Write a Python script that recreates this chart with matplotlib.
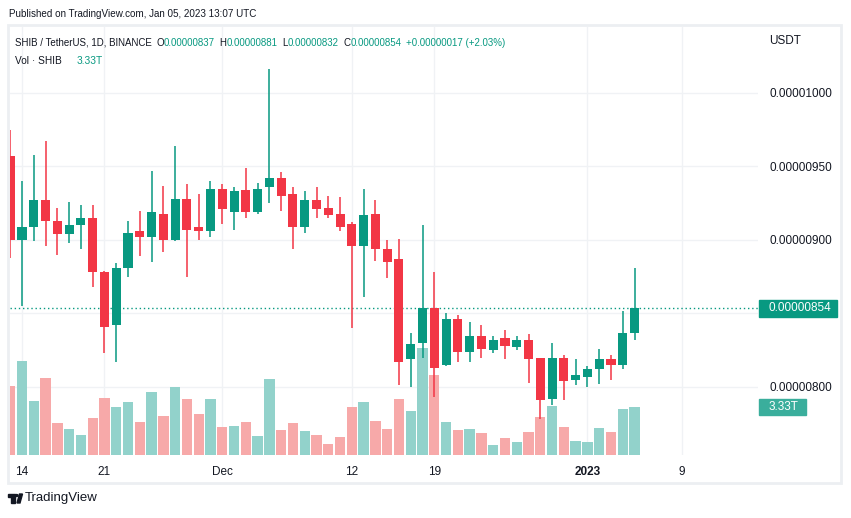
import numpy as np
import pandas as pd
import matplotlib
matplotlib.use("Agg")
import matplotlib.pyplot as plt
from matplotlib import patches
from matplotlib import transforms

plt.rcParams['font.family'] = ['Liberation Sans', 'DejaVu Sans']

# ---- data: SHIB/USDT daily, prices in 1e-8 USDT, volume in trillions ----
dates = pd.date_range('2022-11-13', '2023-01-05', freq='D')
opens = [957, 900, 909, 927, 913, 904, 910, 915, 878, 842, 881, 906, 902, 918,
         900, 928, 909, 906, 935, 919, 934, 919, 936, 942, 931, 909, 927, 922,
         918, 911, 896, 918, 894, 887, 819, 830, 854, 815, 846, 824, 835, 825,
         833, 827, 832, 820, 792, 820, 805, 807, 812, 819, 815, 837]
highs = [975, 940, 958, 967, 922, 926, 924, 924, 879, 884, 913, 920, 947, 937,
         964, 938, 931, 940, 938, 936, 949, 939, 1016, 946, 936, 933, 936, 930,
         929, 912, 935, 927, 900, 901, 837, 910, 878, 850, 849, 844, 842, 835,
         839, 835, 836, 820, 830, 822, 819, 814, 826, 822, 852, 881]
lows = [888, 855, 899, 896, 890, 898, 894, 868, 823, 817, 875, 889, 885, 892,
        899, 875, 900, 902, 911, 907, 915, 918, 925, 920, 894, 905, 915, 915,
        906, 840, 861, 886, 874, 801, 800, 820, 793, 814, 817, 817, 820, 823,
        819, 825, 803, 778, 788, 791, 801, 800, 802, 805, 812, 832]
closes = [900, 909, 927, 913, 904, 910, 915, 878, 841, 881, 905, 902, 919, 900,
          928, 907, 906, 935, 921, 933, 919, 935, 942, 930, 909, 927, 921, 917,
          909, 896, 917, 894, 885, 817, 829, 854, 813, 846, 824, 835, 826, 832,
          828, 832, 819, 791, 820, 804, 808, 812, 819, 815, 837, 854]
volumes = [4.79, 6.52, 3.75, 5.34, 2.22, 1.80, 1.39, 2.57, 3.95, 3.33, 3.68,
           2.29, 4.37, 2.71, 4.72, 3.89, 2.84, 3.89, 1.94, 2.01, 2.29, 1.32,
           5.27, 1.73, 2.22, 1.66, 1.39, 0.76, 1.25, 3.33, 3.68, 2.36, 1.80,
           3.89, 3.05, 7.42, 5.55, 2.29, 1.73, 1.80, 1.53, 0.69, 1.18, 0.90,
           1.60, 2.64, 3.40, 1.94, 0.97, 0.90, 1.87, 1.60, 3.19, 3.33]

price_ticks = [800, 850, 900, 950, 1000]
date_ticks = pd.to_datetime(['2022-11-14', '2022-11-21', '2022-12-01', '2022-12-12',
                             '2022-12-19', '2023-01-01', '2023-01-09'])
date_labels = ['14', '21', 'Dec', '12', '19', '2023', '9']

UP = '#089981'
DOWN = '#F23645'
UP_VOL = '#92d2cb'
DOWN_VOL = '#f7a9a9'
TXT = '#131722'
GRID = '#f0f2f5'
SCALE = 1e-8

W, H = 851, 518
fig = plt.figure(figsize=(W / 100, H / 100), dpi=100)


def fx(px):
    return px / W


def fy(py):
    return 1 - py / H


# frame around chart
fig.patches.append(patches.Rectangle((fx(8), fy(483)), fx(833), (483 - 25) / H,
                                     transform=fig.transFigure, fill=False,
                                     edgecolor='#eceff2', lw=2))

left, right, top, bottom = 10, 758, 27, 455
axv = fig.add_axes([fx(left), fy(bottom), fx(right - left), (bottom - top) / H])
axp = axv.twinx()

x = np.array([(d - dates[0]).days for d in dates])
xt = np.array([(d - dates[0]).days for d in date_ticks])
o = np.array(opens) * SCALE
h = np.array(highs) * SCALE
lo = np.array(lows) * SCALE
c = np.array(closes) * SCALE
up = c >= o

# volume
vmax = 29.69
axv.bar(x, volumes, width=0.88, color=np.where(up, UP_VOL, DOWN_VOL), zorder=2)
axv.set_ylim(0, vmax)
for xv in xt:
    axv.axvline(xv, color=GRID, lw=1, zorder=0)
plo, phi = 753.7 * SCALE, 1044.9 * SCALE
for p in price_ticks:
    f = (p * SCALE - plo) / (phi - plo)
    axv.plot([0, 1], [f, f], transform=axv.transAxes, color=GRID, lw=1, zorder=0)

# candles
cols = np.where(up, UP, DOWN)
axp.vlines(x, lo, h, colors=cols, lw=1.1, zorder=3)
body_lo = np.minimum(o, c)
body_h = np.maximum(np.abs(c - o), 0.6 * SCALE)
axp.bar(x, body_h, bottom=body_lo, width=0.77, color=cols, zorder=4)
axp.set_ylim(plo, phi)
axp.axhline(c[-1], color=UP, lw=1, ls=(0, (1, 2)), zorder=2)

axv.set_xlim(-0.02, 63.48)
axv.set_xticks(xt)
axv.set_xticklabels(date_labels)
for lab in axv.get_xticklabels():
    lab.set_fontsize(8.5)
    lab.set_color(TXT)
    if lab.get_text() == '2023':
        lab.set_fontweight('bold')
axv.tick_params(axis='x', length=0, pad=8)
axv.set_yticks([])
axp.set_yticks(np.array(price_ticks) * SCALE)
axp.set_yticklabels([f'{p * SCALE:.8f}' for p in price_ticks])
axp.tick_params(axis='y', length=0, pad=8, labelsize=8.5, labelcolor=TXT)
for a in (axv, axp):
    for s in a.spines.values():
        s.set_visible(False)

# price and volume tags on the scale
axw = right - left
tr = transforms.blended_transform_factory(axp.transAxes, axp.transData)
ppx = SCALE / 1.47  # price per pixel
axp.add_patch(patches.Rectangle((1 + 1 / axw, c[-1] - 9.5 * ppx), 78 / axw, 17 * ppx,
                                transform=tr, color=UP, clip_on=False, zorder=9))
axp.text(1 + 11 / axw, c[-1], '0.00000854', transform=tr, color='white',
         fontsize=8.5, va='center', ha='left', zorder=10, clip_on=False)
trv = transforms.blended_transform_factory(axv.transAxes, axv.transData)
vpx = vmax / (bottom - top)  # volume per pixel
axv.add_patch(patches.Rectangle((1 + 1 / axw, volumes[-1] - 8 * vpx), 47 / axw,
                                16 * vpx, transform=trv, color='#3aae9c',
                                clip_on=False, zorder=9))
axv.text(1 + 11 / axw, volumes[-1], '3.33T', transform=trv, color='white',
         fontsize=8.5, va='center', ha='left', zorder=10, clip_on=False)
fig.text(fx(769), fy(41), 'USDT', fontsize=8.5, color=TXT, va='center')

# header texts
fig.text(fx(9), fy(14), 'Published on TradingView.com, Jan 05, 2023 13:07 UTC',
         fontsize=7.1, color=TXT, va='center')
legend_parts = [
    ('O', TXT, 3), ('0.00000837', UP, 0),
    ('H', TXT, 3.5), ('0.00000881', UP, 0),
    ('L', TXT, 3.5), ('0.00000832', UP, 0),
    ('C', TXT, 3.5), ('0.00000854', UP, 0),
    ('+0.00000017 (+2.03%)', UP, 3.5),
]
prev = fig.text(fx(15), fy(42.5), 'SHIB / TetherUS, 1D, BINANCE', fontsize=7.0,
                color=TXT, va='center')
for s, col, gap in legend_parts:
    prev = axv.annotate(s, xy=(1, 0), xycoords=prev, xytext=(gap, 0),
                        textcoords='offset points', va='bottom', fontsize=7.0,
                        color=col, annotation_clip=False)
fig.text(fx(15), fy(61), 'Vol · SHIB', fontsize=7.3, color=TXT, va='center')
fig.text(fx(76.7), fy(61), '3.33T', fontsize=7.3, color=UP, va='center')

# TradingView logo
fig.patches.append(patches.Rectangle((fx(8), fy(497)), fx(6.5), 3 / H,
                                     transform=fig.transFigure, color=TXT))
fig.patches.append(patches.Rectangle((fx(11), fy(503)), fx(3.5), 6 / H,
                                     transform=fig.transFigure, color=TXT))
fig.patches.append(patches.Circle((fx(16.5), fy(495.5)), 1.6 / W,
                                  transform=fig.transFigure, color=TXT))
fig.patches.append(patches.Polygon([(fx(17), fy(503)), (fx(19.5), fy(494)),
                                    (fx(22.5), fy(494)), (fx(20), fy(503))],
                                   transform=fig.transFigure, color=TXT))
fig.text(fx(25), fy(498), 'TradingView', fontsize=9.5, color=TXT, va='center')

fig.savefig('out.png', dpi=100)
